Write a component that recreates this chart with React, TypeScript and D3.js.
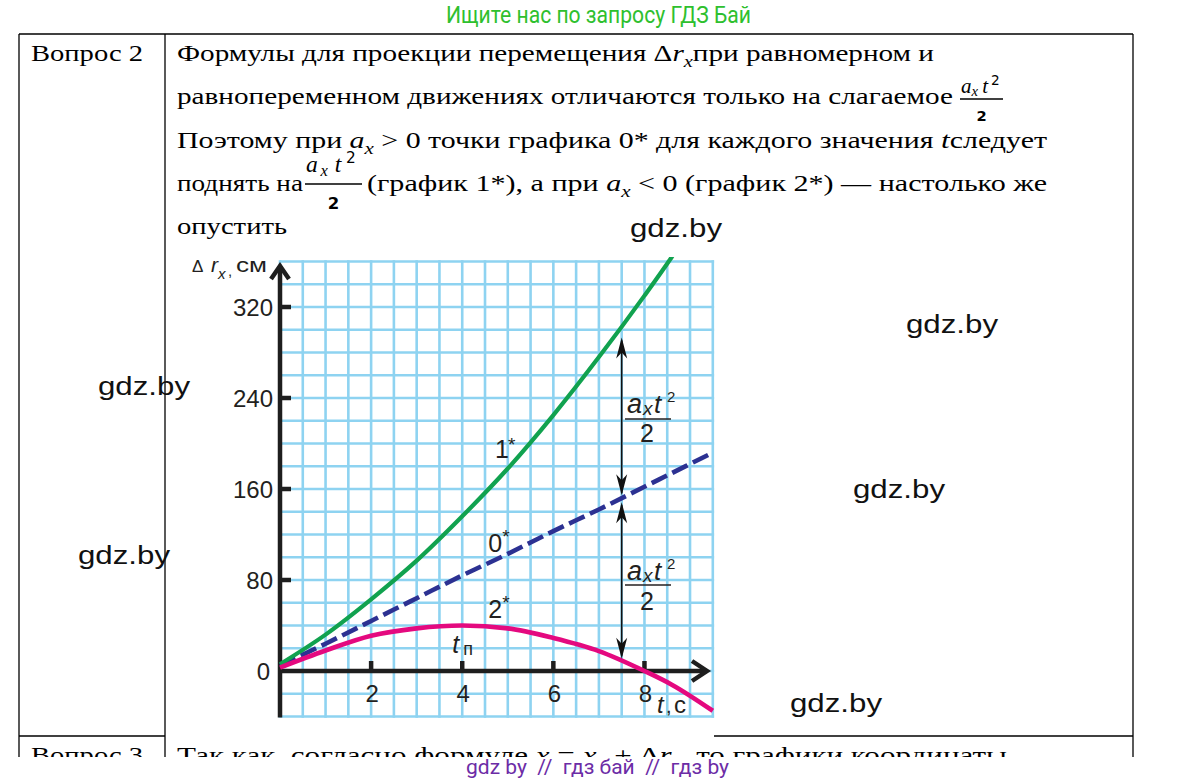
import React from 'react';
import * as d3 from 'd3';

// ---- data ----
const times = [0, 1, 2, 3, 4, 5, 6, 7, 8, 8.6, 9.5];
const series1 = [6, 32, 63, 97, 136, 178, 225, 276, 330, 364, 420]; // 1*  (ax > 0)
const series0 = [5, 24, 44, 64, 84, 103, 123, 142, 162, 174, 192]; // 0*  (uniform)
const series2 = [3, 18, 31, 37.5, 40, 37.5, 29, 17.5, 0, -12, -35]; // 2*  (ax < 0)
const yTicks = [80, 160, 240, 320];
const xTicks = [2, 4, 6, 8];
const arrowT = 7.5;
const arrowVals = [294, 151, 10];

const xDomain = [0, 9.5];
const yDomain = [-40, 360];

const serif = "'Liberation Serif', 'Times New Roman', serif";
const sans = "'Liberation Sans', Arial, sans-serif";

function Line({ x, y, len, size = 23, children }: { x: number; y: number; len: number; size?: number; children: React.ReactNode }) {
  return (
    <text x={x} y={y} fontSize={size} fontFamily={serif} fill="#000" textLength={len} lengthAdjust="spacingAndGlyphs">
      {children}
    </text>
  );
}

const It = ({ children, size }: { children: React.ReactNode; size?: number }) => (
  <tspan fontStyle="italic" fontSize={size}>{children}</tspan>
);

function Frac({ x0, x1, yNum, yBar, yDen, k = 1 }: { x0: number; x1: number; yNum: number; yBar: number; yDen: number; k?: number }) {
  const w = x1 - x0;
  return (
    <g fontFamily={serif}>
      <text x={x0 + 1} y={yNum} fontSize={20 * k} fontStyle="italic">a</text>
      <text x={x0 + 0.27 * w} y={yNum + 3 * k} fontSize={14 * k} fontStyle="italic">x</text>
      <text x={x0 + 0.52 * w} y={yNum} fontSize={20 * k} fontStyle="italic">t</text>
      <text x={x0 + 0.72 * w} y={yNum - 8 * k} fontSize={13 * k} fontFamily="'DejaVu Sans', sans-serif">2</text>
      <line x1={x0} x2={x1} y1={yBar} y2={yBar} stroke="#000" strokeWidth={1.3} />
      <text x={(x0 + x1) / 2} y={yDen} fontSize={14 * k} textAnchor="middle" fontWeight="bold" fontFamily="'DejaVu Sans', sans-serif">2</text>
    </g>
  );
}

export default function App() {
  const x = d3.scaleLinear().domain(xDomain).range([280, 712.8]);
  const y = d3.scaleLinear().domain(yDomain).range([716.5, 261.5]);
  const xGrid = d3.range(xDomain[0], xDomain[1] + 0.01, 0.5);
  const yGrid = d3.range(yDomain[0], yDomain[1] + 0.01, 20);

  const line = d3.line<number>().x((_, i) => x(times[i])).y((d) => y(d)).curve(d3.curveMonotoneX);

  const ax = x(arrowT);
  const head = (hx: number, tipY: number, dir: number) =>
    `M${hx},${tipY} L${hx - 5.5},${tipY + dir * 21} L${hx},${tipY + dir * 15} L${hx + 5.5},${tipY + dir * 21} Z`;
  const a1 = y(arrowVals[0]);
  const a0 = y(arrowVals[1]);
  const a2 = y(arrowVals[2]);

  const chartText = '#231f20';
  const lbl = (t: number, v: number) => ({ x: x(t), y: y(v) });

  return (
    <svg width={1196} height={782} style={{ position: 'absolute', left: 0, top: 0, background: '#fff' }}>
      <defs>
        <clipPath id="plotClip">
          <rect x={276} y={257} width={438} height={462} />
        </clipPath>
        <clipPath id="row3Clip">
          <rect x={0} y={737} width={1196} height={20} />
        </clipPath>
      </defs>
      <rect x={0} y={0} width={1196} height={782} fill="#fff" />

      {/* header */}
      <text x={446} y={23} fontSize={23} fontFamily="'Liberation Sans Narrow', Roboto, sans-serif" fill="#2ec02e" textLength={305} lengthAdjust="spacingAndGlyphs">Ищите нас по запросу ГДЗ Бай</text>

      {/* table lines */}
      <g stroke="#000" strokeWidth={1.3}>
        <line x1={19} x2={1133} y1={34} y2={34} />
        <line x1={19} x2={19} y1={34} y2={757} />
        <line x1={165} x2={165} y1={34} y2={757} />
        <line x1={1133} x2={1133} y1={34} y2={757} />
        <line x1={19} x2={165} y1={736} y2={736} />
        <line x1={714} x2={1133} y1={736} y2={736} />
      </g>

      {/* row 2 text */}
      <Line x={31} y={61} len={112}>Вопрос 2</Line>
      <Line x={177} y={61} len={757}>
        Формулы для проекции перемещения Δ<It>r</It><tspan fontStyle="italic" fontSize={16} dy={6}>x</tspan><tspan dy={-6}>при равномерном и</tspan>
      </Line>

      <Line x={177} y={104} len={776}>равнопеременном движениях отличаются только на слагаемое</Line>
      <Frac x0={960} x1={1003} yNum={93} yBar={99} yDen={121} k={1.05} />

      <Line x={177} y={148} len={870}>
        Поэтому при <It size={23}>a</It><tspan fontStyle="italic" fontSize={16} dy={6}>x</tspan><tspan dy={-6}> &gt; 0 точки графика 0* для каждого значения </tspan><It size={24}>t</It>следует
      </Line>

      <Line x={177} y={191} len={126}>поднять на</Line>
      <Frac x0={305} x1={362} yNum={172} yBar={184} yDen={209} k={1.18} />
      <Line x={367} y={191} len={680}>
        (график 1*), а при <It size={23}>a</It><tspan fontStyle="italic" fontSize={16} dy={6}>x</tspan><tspan dy={-6}> &lt; 0 (график 2*) — настолько же</tspan>
      </Line>

      <Line x={177} y={234} len={110}>опустить</Line>

      {/* row 3 (cut off) */}
      <g clipPath="url(#row3Clip)">
        <Line x={31} y={763} len={112}>Вопрос 3</Line>
        <Line x={177} y={763} len={830}>
          Так как, согласно формуле  <It>x</It>  =  <It>x</It><tspan fontSize={15} dy={5}>0</tspan><tspan dy={-5}>  +  Δ</tspan><It>r</It><tspan fontStyle="italic" fontSize={15} dy={5}>x</tspan><tspan dy={-5}>, то графики координаты</tspan>
        </Line>
      </g>

      {/* footer */}
      <text x={466} y={774} fontSize={21} fontFamily="'Liberation Sans Narrow', Roboto, sans-serif" fill="#6c2ca6" textLength={263} lengthAdjust="spacingAndGlyphs" xmlSpace="preserve">gdz by  //  гдз бай  //  гдз by</text>

      {/* ---------- chart ---------- */}
      <g stroke="#8ed3f1" strokeWidth={2.6}>
        {xGrid.map((t) => (
          <line key={'vx' + t} x1={x(t)} x2={x(t)} y1={y(yDomain[0]) + 1.3} y2={y(yDomain[1]) - 1.3} />
        ))}
        {yGrid.map((v) => (
          <line key={'hy' + v} x1={x(0)} x2={x(xDomain[1]) + 1.3} y1={y(v)} y2={y(v)} />
        ))}
      </g>

      {/* axes */}
      <g stroke="#1e1e1e" strokeWidth={4.5} fill="none">
        <line x1={x(0)} x2={x(0)} y1={y(yDomain[0]) + 1} y2={266} />
        <polyline points={`${x(0) - 9},${279} ${x(0)},${266} ${x(0) + 9},${279}`} strokeLinejoin="miter" />
        <line x1={x(0) - 2} x2={707} y1={y(0)} y2={y(0)} />
        <polyline points={`${692},${y(0) - 10} ${707},${y(0)} ${692},${y(0) + 10}`} strokeLinejoin="miter" />
        {yTicks.map((v) => (
          <line key={'yt' + v} x1={x(0)} x2={x(0) + 11} y1={y(v)} y2={y(v)} />
        ))}
        {xTicks.map((t) => (
          <line key={'xt' + t} x1={x(t)} x2={x(t)} y1={y(0)} y2={y(0) - 10} />
        ))}
      </g>

      {/* tick labels */}
      <g fontFamily={sans} fontSize={24} fill={chartText}>
        {yTicks.map((v) => (
          <text key={'yl' + v} x={x(0) - 7} y={y(v) + 9} textAnchor="end">{v}</text>
        ))}
        <text x={x(0) - 10} y={y(0) + 9} textAnchor="end">0</text>
        {xTicks.map((t) => (
          <text key={'xl' + t} x={x(t) + 1} y={y(0) + 31} textAnchor="middle">{t}</text>
        ))}
      </g>

      {/* axis titles */}
      <g fontFamily={sans} fill={chartText}>
        <text x={192} y={272} fontSize={17}>Δ</text>
        <text x={211} y={272} fontSize={21} fontStyle="italic">r</text>
        <text x={218} y={279} fontSize={15} fontStyle="italic">x</text>
        <text x={228} y={276} fontSize={15}>,</text>
        <text x={236} y={272} fontSize={21} textLength={31} lengthAdjust="spacingAndGlyphs">см</text>

        <text x={657} y={713} fontSize={24} fontStyle="italic">t</text>
        <text x={666} y={713} fontSize={20}>,</text>
        <text x={674} y={713} fontSize={24}>с</text>
      </g>

      {/* curves */}
      <g clipPath="url(#plotClip)" fill="none">
        <path d={line(series0) || ''} stroke="#2c3192" strokeWidth={4.6} strokeDasharray="17 6" />
        <path d={line(series1) || ''} stroke="#11a24f" strokeWidth={4.2} />
        <path d={line(series2) || ''} stroke="#e4097f" strokeWidth={4.6} />
      </g>

      {/* curve labels */}
      <g fontFamily={sans} fill={chartText}>
        <text {...lbl(4.72, 187)} fontSize={25}>1</text>
        <text x={lbl(4.72, 187).x + 13} y={lbl(4.72, 187).y - 7} fontSize={19}>*</text>
        <text {...lbl(4.57, 105)} fontSize={25}>0</text>
        <text x={lbl(4.57, 105).x + 14} y={lbl(4.57, 105).y - 9} fontSize={19}>*</text>
        <text {...lbl(4.57, 47)} fontSize={25}>2</text>
        <text x={lbl(4.57, 47).x + 14} y={lbl(4.57, 47).y - 9} fontSize={19}>*</text>
        <text {...lbl(3.78, 16)} fontSize={25} fontStyle="italic">t</text>
        <text x={lbl(3.78, 16).x + 11} y={lbl(3.78, 16).y + 2} fontSize={18}>п</text>
      </g>

      {/* measurement arrows */}
      <g>
        <line x1={ax} x2={ax} y1={a1 + 4} y2={a0 - 6} stroke="#111" strokeWidth={1.6} />
        <path d={head(ax, a1 + 1, 1)} fill="#111" />
        <path d={head(ax, a0 - 4, -1)} fill="#111" />
        <line x1={ax} x2={ax} y1={a0 + 6} y2={a2 - 4} stroke="#111" strokeWidth={1.6} />
        <path d={head(ax, a0 + 3, 1)} fill="#111" />
        <path d={head(ax, a2 - 1, -1)} fill="#111" />
      </g>

      {/* fraction labels in chart */}
      {[{ num: 413, bar: 419, den: 442 }, { num: 580, bar: 585, den: 610 }].map((f, i) => (
        <g key={'fr' + i} fontFamily={sans} fill={chartText}>
          <text x={627} y={f.num} fontSize={27} fontStyle="italic">a</text>
          <text x={643} y={f.num + 2} fontSize={19} fontStyle="italic">x</text>
          <text x={654} y={f.num} fontSize={26} fontStyle="italic">t</text>
          <text x={667} y={f.num - 11} fontSize={15}>2</text>
          <line x1={625} x2={671} y1={f.bar} y2={f.bar} stroke={chartText} strokeWidth={1.5} />
          <text x={647} y={f.den} fontSize={25} textAnchor="middle">2</text>
        </g>
      ))}

      {/* watermarks */}
      <g fontFamily={sans} fill="#111" fontSize={26}>
        {[
          [630, 237],
          [906, 333],
          [98, 395],
          [853, 498],
          [78, 564],
          [790, 712],
        ].map(([wx, wy], i) => (
          <text key={'wm' + i} x={wx} y={wy} textLength={92} lengthAdjust="spacingAndGlyphs">gdz.by</text>
        ))}
      </g>
    </svg>
  );
}
